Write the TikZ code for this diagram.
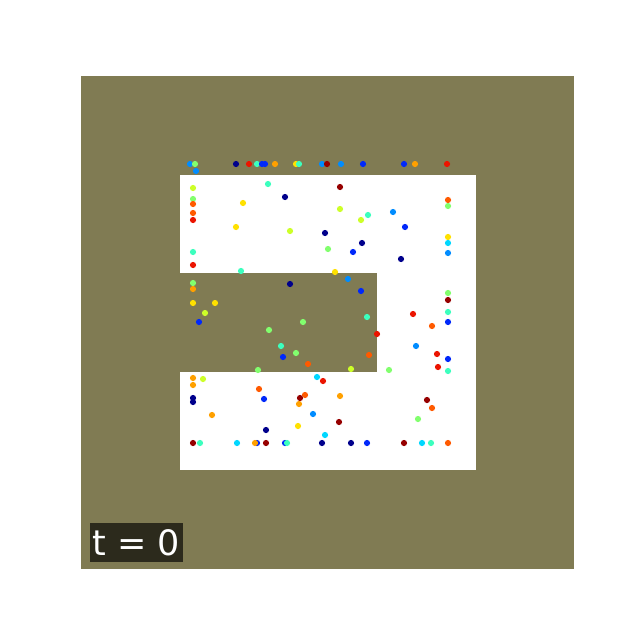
\documentclass[tikz,border=0pt]{standalone}
\usepackage{fontspec}
\setsansfont{DejaVu Sans}
\usepackage{xcolor}
\usetikzlibrary{positioning}
\definecolor{arenaOlive}{RGB}{128,123,83}
\definecolor{labelDark}{RGB}{44,42,28}
\definecolor{jNavy}{RGB}{0,0,140}
\definecolor{jBlue}{RGB}{0,40,250}
\definecolor{jAzure}{RGB}{0,140,255}
\definecolor{jCyan}{RGB}{0,215,255}
\definecolor{jAqua}{RGB}{60,255,190}
\definecolor{jLime}{RGB}{130,255,110}
\definecolor{jYellowGreen}{RGB}{205,255,40}
\definecolor{jYellow}{RGB}{255,225,0}
\definecolor{jAmber}{RGB}{255,160,0}
\definecolor{jOrange}{RGB}{255,90,0}
\definecolor{jRed}{RGB}{235,20,0}
\definecolor{jDarkRed}{RGB}{150,0,0}

\begin{document}
\begin{tikzpicture}[
  x=1pt,
  y=-1pt,
  wall/.style={fill=arenaOlive},
  free/.style={fill=white},
  particle/.style={radius=3.1pt},
  stamp/.style={
    fill=labelDark,
    text=white,
    font=\sffamily\fontsize{35}{38}\selectfont,
    inner sep=0pt,
    minimum width=93pt,
    minimum height=39pt
  }
]
\useasboundingbox (0,0) rectangle (640,640);

% Arena: outer wall, free corridor, inner notch.
\fill[wall] (81,76) rectangle (574,569);
\fill[free] (180,175) rectangle (476,470);
\fill[wall] (180,273) rectangle (377,372);

% Particles (x/y/colour).
\foreach \x/\y/\c in {
  190/164/jAzure, 195/164/jLime, 196/171/jAzure, 236/164/jNavy,
  249/164/jRed, 257/164/jAqua, 262/164/jBlue, 265/164/jBlue,
  275/164/jAmber, 296/164/jYellow, 299/164/jAqua, 322/164/jAzure,
  327/164/jDarkRed, 341/164/jAzure, 363/164/jBlue, 404/164/jBlue,
  415/164/jAmber, 447/164/jRed,
  193/188/jYellowGreen, 193/199/jLime, 193/204/jOrange, 193/213/jOrange,
  193/220/jRed, 193/252/jAqua, 193/265/jRed, 268/184/jAqua,
  285/197/jNavy, 243/203/jYellow, 236/227/jYellow, 290/231/jYellowGreen,
  325/233/jNavy, 328/249/jLime, 241/271/jAqua,
  340/187/jDarkRed, 448/200/jOrange, 448/206/jLime, 340/209/jYellowGreen,
  368/215/jAqua, 361/220/jYellowGreen, 393/212/jAzure, 405/227/jBlue,
  448/237/jYellow, 448/243/jCyan, 448/253/jAzure, 362/243/jNavy,
  353/252/jBlue, 401/259/jNavy, 335/272/jYellow, 348/279/jAzure,
  193/283/jLime, 193/289/jAmber, 290/284/jNavy, 193/303/jYellow,
  215/303/jYellow, 205/313/jYellowGreen, 199/322/jBlue, 303/322/jLime,
  269/330/jLime, 281/346/jAqua, 296/353/jLime, 283/357/jBlue,
  308/364/jOrange, 258/370/jLime, 361/291/jBlue, 367/317/jAqua,
  377/334/jRed, 369/355/jOrange, 351/369/jYellowGreen,
  448/293/jLime, 448/300/jDarkRed, 413/314/jRed, 448/312/jAqua,
  448/322/jBlue, 432/326/jOrange, 416/346/jAzure, 437/354/jRed,
  448/359/jBlue, 438/367/jRed, 448/371/jAqua, 389/370/jLime,
  193/378/jAmber, 203/379/jYellowGreen, 193/385/jAmber, 317/377/jCyan,
  323/381/jRed, 259/389/jOrange, 193/398/jNavy, 193/402/jNavy,
  264/399/jBlue, 305/395/jOrange, 300/398/jDarkRed, 299/404/jAmber,
  212/415/jAmber, 313/414/jAzure, 298/426/jYellow, 266/430/jNavy,
  325/435/jCyan, 340/396/jAmber, 427/400/jDarkRed, 432/408/jOrange,
  339/422/jDarkRed, 418/419/jLime,
  193/443/jDarkRed, 200/443/jAqua, 237/443/jCyan, 257/443/jBlue,
  255/443/jAmber, 266/443/jDarkRed, 285/443/jBlue, 287/443/jAqua,
  322/443/jNavy, 351/443/jNavy, 367/443/jBlue, 404/443/jDarkRed,
  422/443/jCyan, 431/443/jAqua, 448/443/jOrange} {
  \fill[\c] (\x,\y) circle[particle];
}

% Time stamp.
\node[stamp] (tstamp) at (136,542.5) {t = 0};

\end{tikzpicture}
\end{document}
